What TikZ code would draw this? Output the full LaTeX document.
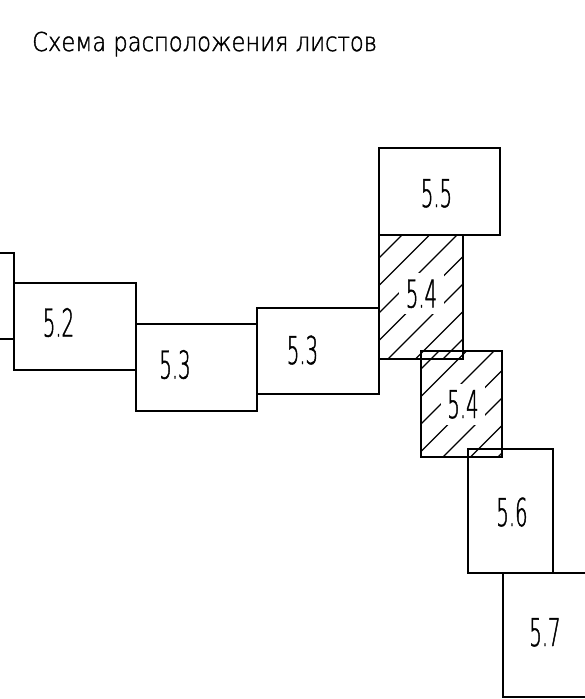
\documentclass[tikz,border=0pt]{standalone}
\usepackage{fontspec}
\setmainfont{DejaVu Sans}
\newfontfamily\lblfont{DejaVu Sans ExtraLight}[FakeStretch=0.51,FakeBold=1.2]
\newfontfamily\titlefont{DejaVu Sans ExtraLight}[FakeStretch=0.87,FakeBold=1.5]
\tikzset{
  sheet/.style={draw=black, line width=1.2pt},
  boldsheet/.style={draw=black, line width=2pt},
  hatch/.style={draw=black, line width=1.1pt},
  lbl/.style={inner sep=0pt, text height=28pt, text depth=0pt, font=\lblfont\fontsize{38.4}{40}\selectfont},
  hlbl/.style={lbl, fill=white, inner sep=6.5pt},
}
\begin{document}
\begin{tikzpicture}[x=1pt,y=-1pt]
\useasboundingbox (0,0) rectangle (585,699);
\clip (0,0) rectangle (585,699);
% title
\node[anchor=base west, inner sep=0pt, font=\titlefont\fontsize{26}{30}\selectfont] (title) at (32,51) {Схема расположения листов};
% hatching
\begin{scope}
  \clip (379,235) rectangle (463,359);
  \foreach \c in {609.5,637,...,860} \draw[hatch] (\c-100,100) -- (\c-600,600);
\end{scope}
\begin{scope}
  \clip (421,351) rectangle (502,457);
  \foreach \c in {762.5,790,...,980} \draw[hatch] (\c-100,100) -- (\c-600,600);
\end{scope}
% labels
\node[lbl] (l52) at (58.5,322.5) {5.2};
\node[lbl] (l53a) at (175,364.5) {5.3};
\node[lbl] (l53b) at (302.5,350) {5.3};
\node[lbl] (l55) at (436.5,193) {5.5};
\node[hlbl] (l54a) at (421.5,293.5) {5.4};
\node[hlbl] (l54b) at (463,404) {5.4};
\node[lbl] (l56) at (512,512) {5.6};
\node[lbl] (l57) at (545,632) {5.7};
% sheets
\draw[sheet] (-20,253) rectangle (14,339);
\draw[sheet] (14,283) rectangle (136,370);
\draw[sheet] (136,324) rectangle (257,411);
\draw[sheet] (257,308) rectangle (379,394);
\draw[sheet] (379,148) rectangle (500,235);
\draw[sheet] (379,235) rectangle (463,359);
\draw[boldsheet] (421,351) rectangle (502,457);
\draw[sheet] (468,449) rectangle (553,573);
\draw[sheet] (503,573) rectangle (640,697);
\end{tikzpicture}
\end{document}
